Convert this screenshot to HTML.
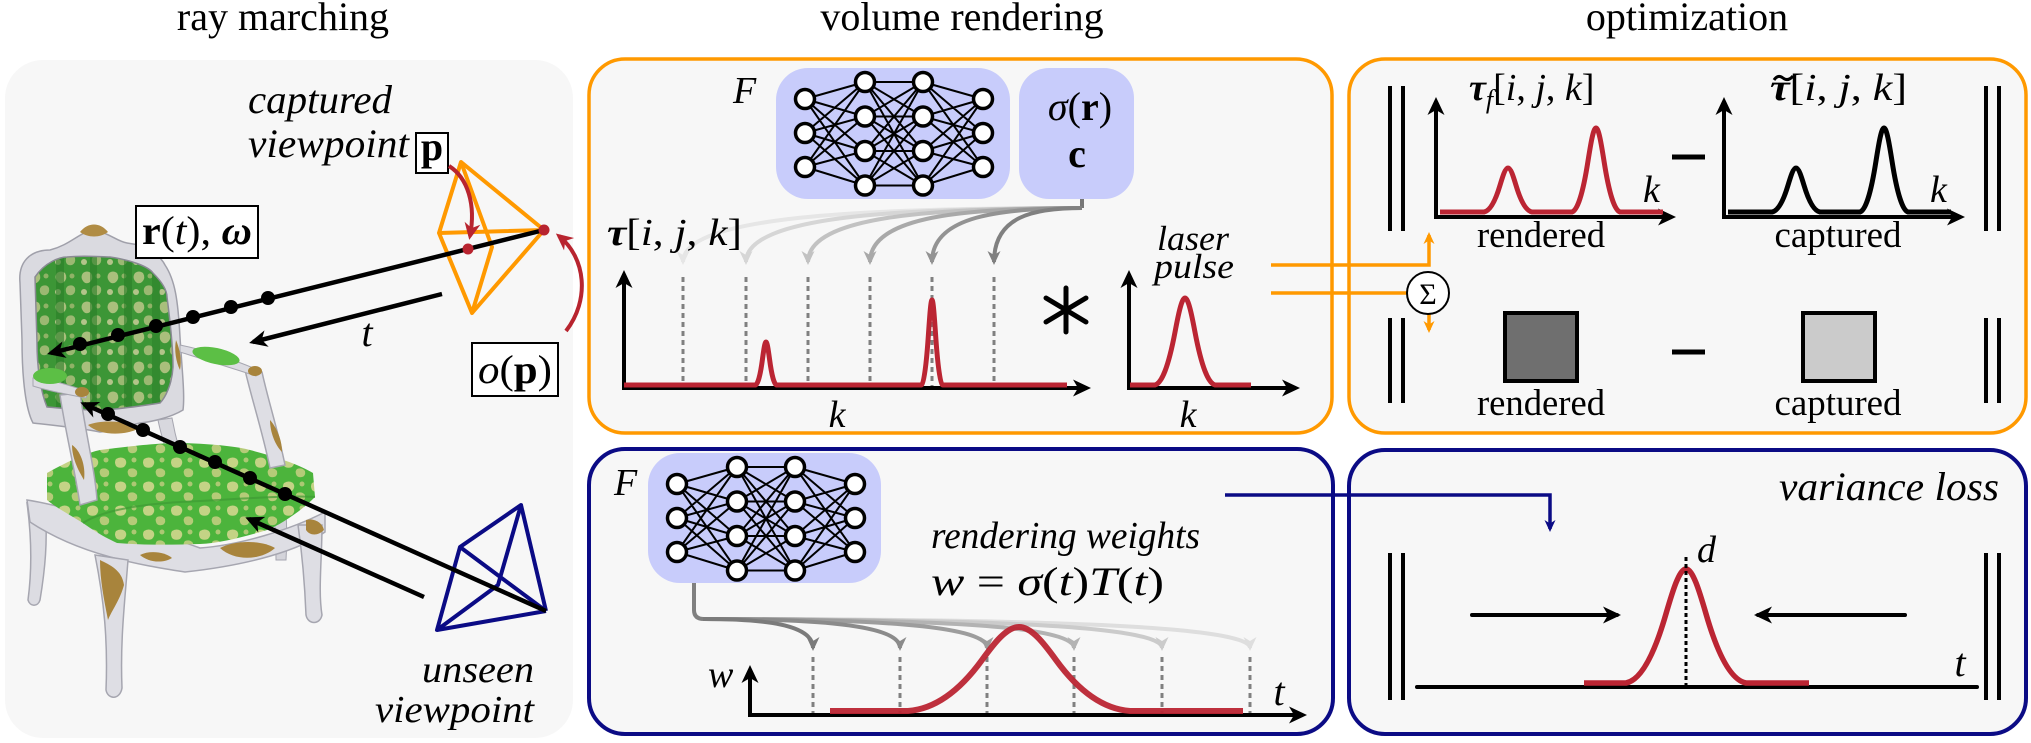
<!DOCTYPE html>
<html><head><meta charset="utf-8"><style>
html,body{margin:0;padding:0;background:#fff;}
body{position:relative;width:2031px;height:743px;overflow:hidden;}
svg{display:block;position:absolute;left:0;top:0;}
svg text{font-family:"Liberation Serif","Tinos","Times New Roman","Times","Nimbus Roman","FreeSerif","DejaVu Serif","Noto Serif CJK SC",serif;fill:#000;}
.ttl{position:absolute;top:-3px;height:40px;line-height:40px;font-size:40px;font-family:"Liberation Serif","Times New Roman","DejaVu Serif","Noto Serif CJK SC",serif;color:#000;text-align:center;white-space:nowrap;z-index:2;}
</style></head><body>
<div class="ttl" style="left:133px;width:300px;">ray marching</div>
<div class="ttl" style="left:762px;width:400px;">volume rendering</div>
<div class="ttl" style="left:1537px;width:300px;">optimization</div>
<svg xmlns="http://www.w3.org/2000/svg" width="2031" height="743" viewBox="0 0 2031 743" font-family="Liberation Serif, Tinos, Times New Roman, DejaVu Serif, Noto Serif CJK SC, serif">
<defs>
<marker id="mk" viewBox="-20 -10 22 20" refX="-4" refY="0" markerWidth="22" markerHeight="20" orient="auto" markerUnits="userSpaceOnUse"><path d="M0 0L-18 -8.5L-13 0L-18 8.5Z" fill="#000"/></marker>
<marker id="mr" viewBox="-20 -10 22 20" refX="-4" refY="0" markerWidth="22" markerHeight="20" orient="auto" markerUnits="userSpaceOnUse"><path d="M0 0L-17 -8L-12 0L-17 8Z" fill="#b8242f"/></marker>
<marker id="mo" viewBox="-16 -8 18 16" refX="-3" refY="0" markerWidth="18" markerHeight="16" orient="auto" markerUnits="userSpaceOnUse"><path d="M0 0L-12 -5.5L-8.5 0L-12 5.5Z" fill="#ff9900"/></marker>
<marker id="mn" viewBox="-16 -8 18 16" refX="-3" refY="0" markerWidth="18" markerHeight="16" orient="auto" markerUnits="userSpaceOnUse"><path d="M0 0L-12 -5.5L-8.5 0L-12 5.5Z" fill="#0b0b85"/></marker>
<marker id="g1" viewBox="-16 -8 18 16" refX="-3" refY="0" markerWidth="18" markerHeight="16" orient="auto" markerUnits="userSpaceOnUse"><path d="M0 0L-14 -6.5L-10 0L-14 6.5Z" fill="#e6e6e6"/></marker>
<marker id="g2" viewBox="-16 -8 18 16" refX="-3" refY="0" markerWidth="18" markerHeight="16" orient="auto" markerUnits="userSpaceOnUse"><path d="M0 0L-14 -6.5L-10 0L-14 6.5Z" fill="#d6d6d6"/></marker>
<marker id="g3" viewBox="-16 -8 18 16" refX="-3" refY="0" markerWidth="18" markerHeight="16" orient="auto" markerUnits="userSpaceOnUse"><path d="M0 0L-14 -6.5L-10 0L-14 6.5Z" fill="#c2c2c2"/></marker>
<marker id="g4" viewBox="-16 -8 18 16" refX="-3" refY="0" markerWidth="18" markerHeight="16" orient="auto" markerUnits="userSpaceOnUse"><path d="M0 0L-14 -6.5L-10 0L-14 6.5Z" fill="#a9a9a9"/></marker>
<marker id="g5" viewBox="-16 -8 18 16" refX="-3" refY="0" markerWidth="18" markerHeight="16" orient="auto" markerUnits="userSpaceOnUse"><path d="M0 0L-14 -6.5L-10 0L-14 6.5Z" fill="#939393"/></marker>
<marker id="g6" viewBox="-16 -8 18 16" refX="-3" refY="0" markerWidth="18" markerHeight="16" orient="auto" markerUnits="userSpaceOnUse"><path d="M0 0L-14 -6.5L-10 0L-14 6.5Z" fill="#808080"/></marker>
<marker id="h1" viewBox="-16 -8 18 16" refX="-3" refY="0" markerWidth="18" markerHeight="16" orient="auto" markerUnits="userSpaceOnUse"><path d="M0 0L-14 -6.5L-10 0L-14 6.5Z" fill="#7b7b7b"/></marker>
<marker id="h2" viewBox="-16 -8 18 16" refX="-3" refY="0" markerWidth="18" markerHeight="16" orient="auto" markerUnits="userSpaceOnUse"><path d="M0 0L-14 -6.5L-10 0L-14 6.5Z" fill="#8b8b8b"/></marker>
<marker id="h3" viewBox="-16 -8 18 16" refX="-3" refY="0" markerWidth="18" markerHeight="16" orient="auto" markerUnits="userSpaceOnUse"><path d="M0 0L-14 -6.5L-10 0L-14 6.5Z" fill="#9d9d9d"/></marker>
<marker id="h4" viewBox="-16 -8 18 16" refX="-3" refY="0" markerWidth="18" markerHeight="16" orient="auto" markerUnits="userSpaceOnUse"><path d="M0 0L-14 -6.5L-10 0L-14 6.5Z" fill="#b3b3b3"/></marker>
<marker id="h5" viewBox="-16 -8 18 16" refX="-3" refY="0" markerWidth="18" markerHeight="16" orient="auto" markerUnits="userSpaceOnUse"><path d="M0 0L-14 -6.5L-10 0L-14 6.5Z" fill="#cbcbcb"/></marker>
<marker id="h6" viewBox="-16 -8 18 16" refX="-3" refY="0" markerWidth="18" markerHeight="16" orient="auto" markerUnits="userSpaceOnUse"><path d="M0 0L-14 -6.5L-10 0L-14 6.5Z" fill="#dedede"/></marker>

<pattern id="dam" width="26" height="30" patternUnits="userSpaceOnUse">
 <rect width="26" height="30" fill="#3c9636"/>
 <path d="M5 3q4 -3 8 0q3 5 -1 9q-4 3 -7 -1q-3 -4 0 -8z" fill="#a9bf7c"/>
 <path d="M16 16q5 -2 7 2q1 5 -3 7q-5 1 -6 -3q-1 -4 2 -6z" fill="#9bb872"/>
 <circle cx="6" cy="22" r="3" fill="#b3c489"/>
 <circle cx="20" cy="6" r="2.5" fill="#8fb266"/>
</pattern>
<pattern id="dam2" width="28" height="24" patternUnits="userSpaceOnUse">
 <rect width="28" height="24" fill="#4cb43c"/>
 <path d="M4 3q5 -3 9 0q3 4 -1 8q-5 2 -8 -1q-2 -4 0 -7z" fill="#c4d385"/>
 <path d="M17 13q5 -2 8 2q1 5 -3 6q-5 1 -6 -3q-1 -3 1 -5z" fill="#b5cb78"/>
 <circle cx="22" cy="4" r="2.5" fill="#acc873"/>
</pattern>
<clipPath id="backclip"><path d="M35 277C45 262 60 257 67 257C85 255 100 257 110 257C130 260 148 266 153 273C162 282 167 290 167 297C170 320 173 345 173 367C172 385 165 398 160 403C140 406 115 410 100 410C80 410 60 408 47 407C40 390 37 365 37 343Z"/></clipPath>

<g id="nn">
 <path fill="none" stroke="#000" stroke-width="2" d="M0 17L60 0M0 17L60 34.5M0 17L60 69M0 17L60 103.5M0 51L60 0M0 51L60 34.5M0 51L60 69M0 51L60 103.5M0 85L60 0M0 85L60 34.5M0 85L60 69M0 85L60 103.5M60 0L118 0M60 0L118 34.5M60 0L118 69M60 0L118 103.5M60 34.5L118 0M60 34.5L118 34.5M60 34.5L118 69M60 34.5L118 103.5M60 69L118 0M60 69L118 34.5M60 69L118 69M60 69L118 103.5M60 103.5L118 0M60 103.5L118 34.5M60 103.5L118 69M60 103.5L118 103.5M118 0L178 17M118 0L178 51M118 0L178 85M118 34.5L178 17M118 34.5L178 51M118 34.5L178 85M118 69L178 17M118 69L178 51M118 69L178 85M118 103.5L178 17M118 103.5L178 51M118 103.5L178 85"/>
 <g fill="#fff" stroke="#000" stroke-width="3.5">
  <circle cx="0" cy="17" r="9.5"/><circle cx="0" cy="51" r="9.5"/><circle cx="0" cy="85" r="9.5"/>
  <circle cx="60" cy="0" r="9.5"/><circle cx="60" cy="34.5" r="9.5"/><circle cx="60" cy="69" r="9.5"/><circle cx="60" cy="103.5" r="9.5"/>
  <circle cx="118" cy="0" r="9.5"/><circle cx="118" cy="34.5" r="9.5"/><circle cx="118" cy="69" r="9.5"/><circle cx="118" cy="103.5" r="9.5"/>
  <circle cx="178" cy="17" r="9.5"/><circle cx="178" cy="51" r="9.5"/><circle cx="178" cy="85" r="9.5"/>
 </g>
</g>
</defs>

<!-- panels -->
<rect x="5" y="60" width="568" height="678" rx="38" fill="#f7f7f7"/>
<rect x="589" y="59" width="743" height="374" rx="36" fill="#f7f7f7" stroke="#ff9900" stroke-width="3.5"/>
<rect x="1349" y="59" width="677" height="374" rx="36" fill="#f7f7f7" stroke="#ff9900" stroke-width="3.5"/>
<rect x="589" y="449" width="744" height="285" rx="36" fill="#f7f7f7" stroke="#0b0b85" stroke-width="4"/>
<rect x="1349" y="450" width="677" height="284" rx="36" fill="#f7f7f7" stroke="#0b0b85" stroke-width="4"/>

<!-- ===== CHAIR ===== -->
<g>
 <path d="M27 503L45 508C48 540 45 570 40 600C38 607 30 607 28 600C32 570 32 540 27 503Z" fill="#dcdce2" stroke="#a6a6b0" stroke-width="1.5"/>
 <path d="M268 470L282 468C286 500 288 530 286 560L276 560C276 530 274 500 268 470Z" fill="#d4d4da" stroke="#a6a6b0" stroke-width="1"/>
 <path d="M20 283C18 262 30 250 50 250C70 245 80 232 93 230C108 232 118 242 127 243C145 245 160 255 165 265C175 280 178 300 180 337C182 370 185 395 183 410C170 418 150 422 140 423C120 428 105 432 100 432C80 428 50 425 33 423C26 410 22 380 22 340Z" fill="#dadae0" stroke="#a0a0aa" stroke-width="1.5"/>
 <path d="M80 232C88 222 100 222 108 232C100 238 88 238 80 232Z" fill="#b08c44"/>
 <g clip-path="url(#backclip)">
  <rect x="30" y="250" width="150" height="165" fill="url(#dam)"/>
  <rect x="56" y="250" width="8" height="165" fill="#2a7d28" opacity="0.6"/>
  <rect x="90" y="250" width="7" height="165" fill="#2a7d28" opacity="0.6"/>
  <rect x="124" y="250" width="8" height="165" fill="#2a7d28" opacity="0.6"/>
  <rect x="152" y="250" width="8" height="165" fill="#2a7d28" opacity="0.5"/>
 </g>
 <path d="M35 277C45 262 60 257 67 257C85 255 100 257 110 257C130 260 148 266 153 273C162 282 167 290 167 297C170 320 173 345 173 367C172 385 165 398 160 403C140 406 115 410 100 410C80 410 60 408 47 407C40 390 37 365 37 343Z" fill="none" stroke="#8a8a94" stroke-width="1.5"/>
 <path d="M88 425C100 420 125 420 140 428C125 436 100 436 88 425Z" fill="#b08c44"/>
 <path d="M158 420L172 418C176 440 182 460 186 470L172 472C168 455 162 440 158 420Z" fill="#d8d8de" stroke="#a6a6b0" stroke-width="1"/>
 <path d="M27 500C60 505 150 530 200 548C240 545 290 530 325 512L325 532C300 550 250 565 185 572C140 565 80 555 30 522Z" fill="#dedee4" stroke="#a6a6b0" stroke-width="1.5"/>
 <path d="M220 548C235 540 262 540 275 548C262 560 235 562 220 548Z" fill="#a8843c"/>
 <path d="M140 555C150 550 165 552 172 558C162 564 148 562 140 555Z" fill="#a8843c"/>
 <path d="M47 473C70 460 90 452 100 450C140 445 160 443 183 443C215 444 240 447 250 450C280 458 300 465 313 473L315 497C300 512 280 525 267 530C240 538 220 543 200 544C170 545 140 545 117 543C100 535 90 528 83 523C70 515 55 507 47 500Z" fill="url(#dam2)"/>
 <path d="M83 523C100 512 130 505 180 502C230 500 280 495 315 497" fill="none" stroke="#3f9a33" stroke-width="2" opacity="0.7"/>
 <path d="M95 555L128 560C125 600 120 640 122 688C120 700 108 700 106 690C108 640 104 600 95 555Z" fill="#dedee4" stroke="#a6a6b0" stroke-width="1.5"/>
 <path d="M100 560C110 565 122 570 124 585C120 600 112 610 108 620C104 600 100 580 100 560Z" fill="#a8843c"/>
 <path d="M298 525L322 525C322 560 318 590 322 615C320 625 308 625 306 615C305 590 303 560 298 525Z" fill="#dedee4" stroke="#a6a6b0" stroke-width="1.5"/>
 <path d="M306 520C314 518 322 522 324 530C318 536 310 536 306 530Z" fill="#a8843c"/>
 <path d="M60 395L80 393C85 430 95 470 97 500L80 505C75 470 65 430 60 395Z" fill="#dedee4" stroke="#a6a6b0" stroke-width="1.5"/>
 <path d="M72 445C80 450 86 465 84 480C78 470 72 458 72 445Z" fill="#a8843c"/>
 <path d="M33 378C45 378 70 385 88 392L86 398C70 395 45 390 33 386Z" fill="#dcdce2" stroke="#a6a6b0" stroke-width="1"/>
 <ellipse cx="50" cy="376" rx="17" ry="8" fill="#5cbf45"/>
 <ellipse cx="82" cy="392" rx="7" ry="5" fill="#a8843c"/>
 <path d="M245 370L262 372C268 400 278 430 285 465L270 468C262 430 252 400 245 370Z" fill="#dedee4" stroke="#a6a6b0" stroke-width="1.5"/>
 <path d="M270 420C277 428 282 440 282 452C275 445 270 432 270 420Z" fill="#a8843c"/>
 <path d="M180 345C205 350 235 360 258 370L256 376C232 368 205 360 180 352Z" fill="#dcdce2" stroke="#a6a6b0" stroke-width="1"/>
 <ellipse cx="216" cy="356" rx="24" ry="8" fill="#5cbf45" transform="rotate(12 216 356)"/>
 <ellipse cx="255" cy="371" rx="7" ry="5" fill="#a8843c"/>
 <path d="M176 340C180 350 182 360 180 370C176 362 174 350 176 340Z" fill="#a8843c"/>
</g>

<!-- ===== RAY MARCHING ANNOTATIONS ===== -->
<text x="248" y="113" font-size="40" font-style="italic" textLength="144" lengthAdjust="spacingAndGlyphs">captured</text>
<text x="248" y="157" font-size="40" font-style="italic" textLength="161" lengthAdjust="spacingAndGlyphs">viewpoint</text>
<rect x="416" y="133" width="32" height="40" fill="#fff" stroke="#000" stroke-width="2"/>
<text x="432" y="160" font-size="40" font-weight="bold" text-anchor="middle">p</text>

<rect x="136" y="206" width="122" height="52" fill="#fff" stroke="#000" stroke-width="2"/>
<text x="197" y="244" font-size="40" text-anchor="middle" textLength="110" lengthAdjust="spacingAndGlyphs"><tspan font-weight="bold">r</tspan>(<tspan font-style="italic">t</tspan>), <tspan font-weight="bold" font-style="italic">ω</tspan></text>

<rect x="472" y="343" width="86" height="53" fill="#fff" stroke="#000" stroke-width="2"/>
<text x="515" y="383" font-size="40" text-anchor="middle" textLength="74" lengthAdjust="spacingAndGlyphs"><tspan font-style="italic">o</tspan>(<tspan font-weight="bold">p</tspan>)</text>

<text x="367" y="346" font-size="40" font-style="italic" text-anchor="middle">t</text>

<text x="534" y="682" font-size="38" font-style="italic" text-anchor="end" textLength="112" lengthAdjust="spacingAndGlyphs">unseen</text>
<text x="534" y="722" font-size="38" font-style="italic" text-anchor="end" textLength="159" lengthAdjust="spacingAndGlyphs">viewpoint</text>

<g fill="none" stroke="#ff9900" stroke-width="4" stroke-linejoin="round">
 <path d="M461 162L439 233L472 313L492 247Z"/>
 <path d="M461 162L544 230M439 233L544 230M472 313L544 230"/>
</g>
<g fill="none" stroke="#0b0b85" stroke-width="4" stroke-linejoin="round">
 <path d="M521 505L460 547L437 630L498 585Z"/>
 <path d="M521 505L546 611M460 547L546 611M437 630L546 611"/>
</g>

<g stroke="#000" stroke-width="4.5" fill="none">
 <path d="M544 230L51 353" marker-end="url(#mk)"/>
 <path d="M442 294L253 342" marker-end="url(#mk)"/>
 <path d="M546 611L84 404" marker-end="url(#mk)"/>
 <path d="M424 597L249 519" marker-end="url(#mk)"/>
</g>
<g fill="#000">
 <circle cx="268" cy="298" r="7"/><circle cx="231" cy="307" r="7"/><circle cx="193" cy="317" r="7"/>
 <circle cx="156" cy="326" r="7"/><circle cx="118" cy="335" r="7"/><circle cx="80" cy="344" r="7"/>
 <circle cx="108" cy="414" r="7"/><circle cx="143" cy="430" r="7"/><circle cx="180" cy="447" r="7"/>
 <circle cx="215" cy="462" r="7"/><circle cx="250" cy="478" r="7"/><circle cx="285" cy="494" r="7"/>
</g>
<g fill="none" stroke="#b8242f" stroke-width="4">
 <path d="M449 166C468 178 476 205 470 236" marker-end="url(#mr)"/>
 <path d="M566 331C590 300 586 258 559 236" marker-end="url(#mr)"/>
</g>
<circle cx="544" cy="230" r="5.5" fill="#b8242f"/>
<circle cx="468" cy="249" r="5.5" fill="#b8242f"/>

<!-- ===== VOLUME RENDERING (top) ===== -->
<text x="733" y="103" font-size="38" font-style="italic">F</text>
<rect x="776" y="68" width="234" height="131" rx="32" fill="#c8ccfb"/>
<rect x="1019" y="68" width="115" height="131" rx="30" fill="#c8ccfb"/>
<use href="#nn" transform="translate(805,82)"/>
<text x="1080" y="120" font-size="40" text-anchor="middle"><tspan font-style="italic">σ</tspan>(<tspan font-weight="bold">r</tspan>)</text>
<text x="1077" y="167" font-size="40" font-weight="bold" text-anchor="middle">c</text>

<path d="M1082 199V208" stroke="#777" stroke-width="4" fill="none"/>
<g fill="none" stroke-width="4">
 <path d="M1082 208C862 208 683 216 683 262" stroke="#e6e6e6" marker-end="url(#g1)"/>
 <path d="M1082 208C897 208 746 216 746 262" stroke="#d6d6d6" marker-end="url(#g2)"/>
 <path d="M1082 208C931 208 808 216 808 262" stroke="#c2c2c2" marker-end="url(#g3)"/>
 <path d="M1082 208C965 208 870 216 870 262" stroke="#a9a9a9" marker-end="url(#g4)"/>
 <path d="M1082 208C1000 208 932 216 932 262" stroke="#939393" marker-end="url(#g5)"/>
 <path d="M1082 208C1034 208 994 216 994 262" stroke="#808080" marker-end="url(#g6)"/>
</g>
<g stroke="#808080" stroke-width="3" stroke-dasharray="5 4" fill="none">
 <path d="M683 277V386M746 277V386M808 277V386M870 277V386M932 277V386M994 277V386"/>
</g>

<text x="607" y="245" font-size="38" textLength="135" lengthAdjust="spacingAndGlyphs"><tspan font-weight="bold" font-style="italic">τ</tspan>[<tspan font-style="italic">i</tspan>, <tspan font-style="italic">j</tspan>, <tspan font-style="italic">k</tspan>]</text>

<g stroke="#000" stroke-width="4" fill="none">
 <path d="M624 390V274" marker-end="url(#mk)"/>
 <path d="M622 388H1087" marker-end="url(#mk)"/>
 <path d="M1129 390V274" marker-end="url(#mk)"/>
 <path d="M1127 388H1296" marker-end="url(#mk)"/>
</g>
<path d="M624 385L755.5 385C757.8 384.1 760.2 376.3 762.5 358.9C763.7 350.2 764.8 342 766 342C767.2 342 768.3 350.2 769.5 358.9C771.8 376.3 774.2 384.1 776.5 385L921.5 385C923.8 383.1 926.2 367.8 928.5 333.4C929.7 316.2 930.8 300 932 300C933.2 300 934.3 316.2 935.5 333.4C937.8 367.8 940.2 383.1 942.5 385L1067 385" fill="none" stroke="#bb2533" stroke-width="5" stroke-linejoin="round"/>
<text x="837" y="427" font-size="38" font-style="italic" text-anchor="middle">k</text>

<g stroke="#000" stroke-width="5" stroke-linecap="round">
 <path d="M1066 288V332M1046 298L1086 322M1046 322L1086 298"/>
</g>

<text x="1193" y="250" font-size="35" font-style="italic" text-anchor="middle" textLength="72" lengthAdjust="spacingAndGlyphs">laser</text>
<text x="1194" y="278" font-size="35" font-style="italic" text-anchor="middle" textLength="80" lengthAdjust="spacingAndGlyphs">pulse</text>
<path d="M1130 385L1155 385C1161.7 383.1 1168.3 367.4 1175 332.2C1178.3 314.6 1181.7 298 1185 298C1188.3 298 1191.7 314.6 1195 332.2C1201.7 367.4 1208.3 383.1 1215 385L1251 385" fill="none" stroke="#bb2533" stroke-width="5" stroke-linejoin="round"/>
<text x="1188" y="427" font-size="38" font-style="italic" text-anchor="middle">k</text>

<g fill="none" stroke="#ff9900" stroke-width="3.5">
 <path d="M1271 265H1429V235" marker-end="url(#mo)"/>
 <path d="M1271 293H1407"/>
 <path d="M1429 314V330" marker-end="url(#mo)"/>
</g>
<circle cx="1428" cy="293" r="21" fill="#fff" stroke="#000" stroke-width="2"/>
<text x="1428" y="304" font-size="30" text-anchor="middle">Σ</text>

<!-- ===== OPTIMIZATION (top right) ===== -->
<g stroke="#000" stroke-width="4">
 <path d="M1390 86V231M1403 86V231M1986 86V231M1999 86V231"/>
 <path d="M1390 318V403M1403 318V403M1986 318V403M1999 318V403"/>
 <path d="M1672 157H1705M1672 352H1705" stroke-width="5"/>
</g>
<text x="1469" y="100" font-size="38"><tspan font-weight="bold" font-style="italic">τ</tspan><tspan font-style="italic" font-size="26" dy="8">f</tspan><tspan dy="-8">[</tspan><tspan font-style="italic">i</tspan>, <tspan font-style="italic">j</tspan>, <tspan font-style="italic">k</tspan>]</text>
<text x="1770" y="100" font-size="38" textLength="137" lengthAdjust="spacingAndGlyphs"><tspan font-weight="bold" font-style="italic">τ</tspan>[<tspan font-style="italic">i</tspan>, <tspan font-style="italic">j</tspan>, <tspan font-style="italic">k</tspan>]</text>
<path d="M1774 80Q1778 74 1783 78T1793 76" fill="none" stroke="#000" stroke-width="3"/>

<g stroke="#000" stroke-width="4" fill="none">
 <path d="M1436 219V101" marker-end="url(#mk)"/>
 <path d="M1434 217H1672" marker-end="url(#mk)"/>
 <path d="M1724 219V101" marker-end="url(#mk)"/>
 <path d="M1722 217H1961" marker-end="url(#mk)"/>
</g>
<path d="M1440 212L1484 212C1489.3 211 1494.7 203.1 1500 185.3C1502.7 176.4 1505.3 168 1508 168C1510.7 168 1513.3 176.4 1516 185.3C1521.3 203.1 1526.7 211 1532 212L1572 212C1577.3 210.2 1582.7 195 1588 161C1590.7 144 1593.3 128 1596 128C1598.7 128 1601.3 144 1604 161C1609.3 195 1614.7 210.2 1620 212L1663 212" fill="none" stroke="#bb2533" stroke-width="5" stroke-linejoin="round"/>
<path d="M1728 212L1772 212C1777.3 211 1782.7 203.1 1788 185.3C1790.7 176.4 1793.3 168 1796 168C1798.7 168 1801.3 176.4 1804 185.3C1809.3 203.1 1814.7 211 1820 212L1860 212C1865.3 210.2 1870.7 195 1876 161C1878.7 144 1881.3 128 1884 128C1886.7 128 1889.3 144 1892 161C1897.3 195 1902.7 210.2 1908 212L1951 212" fill="none" stroke="#000" stroke-width="5" stroke-linejoin="round"/>
<text x="1643" y="202" font-size="38" font-style="italic">k</text>
<text x="1930" y="202" font-size="38" font-style="italic">k</text>
<text x="1541" y="247" font-size="37" text-anchor="middle" textLength="128" lengthAdjust="spacingAndGlyphs">rendered</text>
<text x="1838" y="247" font-size="37" text-anchor="middle" textLength="127" lengthAdjust="spacingAndGlyphs">captured</text>

<rect x="1505" y="313" width="72" height="68" fill="#6f6f6f" stroke="#000" stroke-width="4"/>
<rect x="1803" y="313" width="72" height="68" fill="#cbcbcb" stroke="#000" stroke-width="4"/>
<text x="1541" y="415" font-size="37" text-anchor="middle" textLength="128" lengthAdjust="spacingAndGlyphs">rendered</text>
<text x="1838" y="415" font-size="37" text-anchor="middle" textLength="127" lengthAdjust="spacingAndGlyphs">captured</text>

<!-- ===== BOTTOM MIDDLE ===== -->
<text x="614" y="495" font-size="38" font-style="italic">F</text>
<rect x="648" y="453" width="233" height="130" rx="32" fill="#c8ccfb"/>
<use href="#nn" transform="translate(677,467)"/>
<text x="931" y="548" font-size="38" font-style="italic" textLength="269" lengthAdjust="spacingAndGlyphs">rendering weights</text>
<text x="931" y="595" font-size="40" textLength="233" lengthAdjust="spacingAndGlyphs"><tspan font-style="italic">w</tspan> = <tspan font-style="italic">σ</tspan>(<tspan font-style="italic">t</tspan>)<tspan font-style="italic">T</tspan>(<tspan font-style="italic">t</tspan>)</text>

<path d="M694 583V610Q694 619 704 619" stroke="#808080" stroke-width="4" fill="none"/>
<g fill="none" stroke-width="4">
 <path d="M703 619C1004 619 1250 624 1250 648" stroke="#dedede" marker-end="url(#h6)"/>
 <path d="M703 619C955 619 1162 624 1162 648" stroke="#cbcbcb" marker-end="url(#h5)"/>
 <path d="M703 619C907 619 1074 624 1074 648" stroke="#b3b3b3" marker-end="url(#h4)"/>
 <path d="M703 619C859 619 987 624 987 648" stroke="#9d9d9d" marker-end="url(#h3)"/>
 <path d="M703 619C811 619 900 624 900 648" stroke="#8b8b8b" marker-end="url(#h2)"/>
 <path d="M703 619C763 619 813 624 813 648" stroke="#7b7b7b" marker-end="url(#h1)"/>
</g>
<g stroke="#808080" stroke-width="3" stroke-dasharray="5 4" fill="none">
 <path d="M813 657V713M900 657V713M987 657V713M1074 657V713M1162 657V713M1250 657V713"/>
</g>
<g stroke="#000" stroke-width="4" fill="none">
 <path d="M750 717V669" marker-end="url(#mk)"/>
 <path d="M748 715H1303" marker-end="url(#mk)"/>
</g>
<path d="M830 711L908 711C932.7 709.2 957.3 694 982 660C994.3 643 1006.7 627 1019 627C1031.3 627 1043.7 643 1056 660C1080.7 694 1105.3 709.2 1130 711L1243 711" fill="none" stroke="#bb2533" stroke-width="6" stroke-linejoin="round" opacity="0.95"/>
<text x="708" y="687" font-size="38" font-style="italic">w</text>
<text x="1279" y="705" font-size="40" font-style="italic" text-anchor="middle">t</text>

<path d="M1225 495H1550V529" fill="none" stroke="#0b0b85" stroke-width="3.5" marker-end="url(#mn)"/>

<!-- ===== VARIANCE LOSS ===== -->
<text x="1999" y="500" font-size="40" font-style="italic" text-anchor="end" textLength="220" lengthAdjust="spacingAndGlyphs">variance loss</text>
<g stroke="#000" stroke-width="4">
 <path d="M1390 553V700M1403 553V700M1986 553V700M1999 553V700"/>
</g>
<path d="M1417 687H1977" stroke="#000" stroke-width="4" stroke-linecap="round"/>
<path d="M1584 683L1626 683C1639.3 680.5 1652.7 660 1666 613.8C1672.7 590.8 1679.3 569 1686 569C1692.7 569 1699.3 590.8 1706 613.8C1719.3 660 1732.7 680.5 1746 683L1809 683" fill="none" stroke="#bb2533" stroke-width="5.5" stroke-linejoin="round"/>
<path d="M1686 557V687" stroke="#000" stroke-width="3" stroke-dasharray="4 3"/>
<text x="1697" y="562" font-size="38" font-style="italic">d</text>
<text x="1960" y="676" font-size="40" font-style="italic" text-anchor="middle">t</text>
<g stroke="#000" stroke-width="4" fill="none" stroke-linecap="round">
 <path d="M1472 615H1617" marker-end="url(#mk)"/>
 <path d="M1905 615H1758" marker-end="url(#mk)"/>
</g>
</svg>
</body></html>
